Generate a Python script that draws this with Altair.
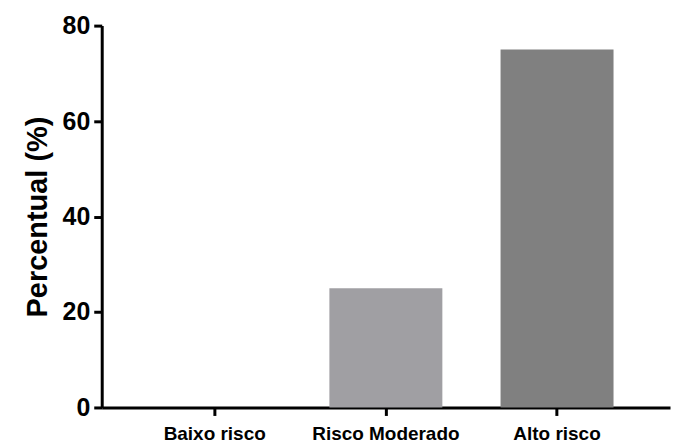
import altair as alt
import pandas as pd

categories = ["Baixo risco", "Risco Moderado", "Alto risco"]
values = [0, 25, 75]
colors = ["#a09fa3", "#a09fa3", "#808080"]

df = pd.DataFrame({"cat": categories, "val": values})

FONT = "Liberation Sans"

chart = alt.Chart(df).mark_bar().encode(
    x=alt.X("cat:N", sort=categories,
            scale=alt.Scale(paddingInner=0.34, paddingOuter=0.33),
            axis=alt.Axis(title=None, labelAngle=0, bandPosition=0.5,
                          labelFont=FONT, labelFontSize=19, labelFontWeight="bold",
                          labelColor="black", labelPadding=9,
                          domainColor="black", domainWidth=3,
                          tickColor="black", tickWidth=3, tickSize=8)),
    y=alt.Y("val:Q", scale=alt.Scale(domain=[0, 80], nice=False),
            axis=alt.Axis(title="Percentual (%)", values=[0, 20, 40, 60, 80],
                          titleFont=FONT, titleFontSize=29, titleFontWeight="bold",
                          titleColor="black", titlePadding=10,
                          labelFont=FONT, labelFontSize=25, labelFontWeight="bold",
                          labelColor="black", labelPadding=4,
                          domainColor="black", domainWidth=3,
                          tickColor="black", tickWidth=3, tickSize=8, grid=False)),
    color=alt.Color("cat:N", sort=categories,
                    scale=alt.Scale(domain=categories, range=colors), legend=None),
).properties(
    width=570, height=383,
    autosize=alt.AutoSizeParams(type="none"),
    padding={"left": 94, "top": 17, "right": 5, "bottom": 40},
).configure_view(stroke=None)

chart.save("out.html", embed_options={"renderer": "svg", "actions": False})
